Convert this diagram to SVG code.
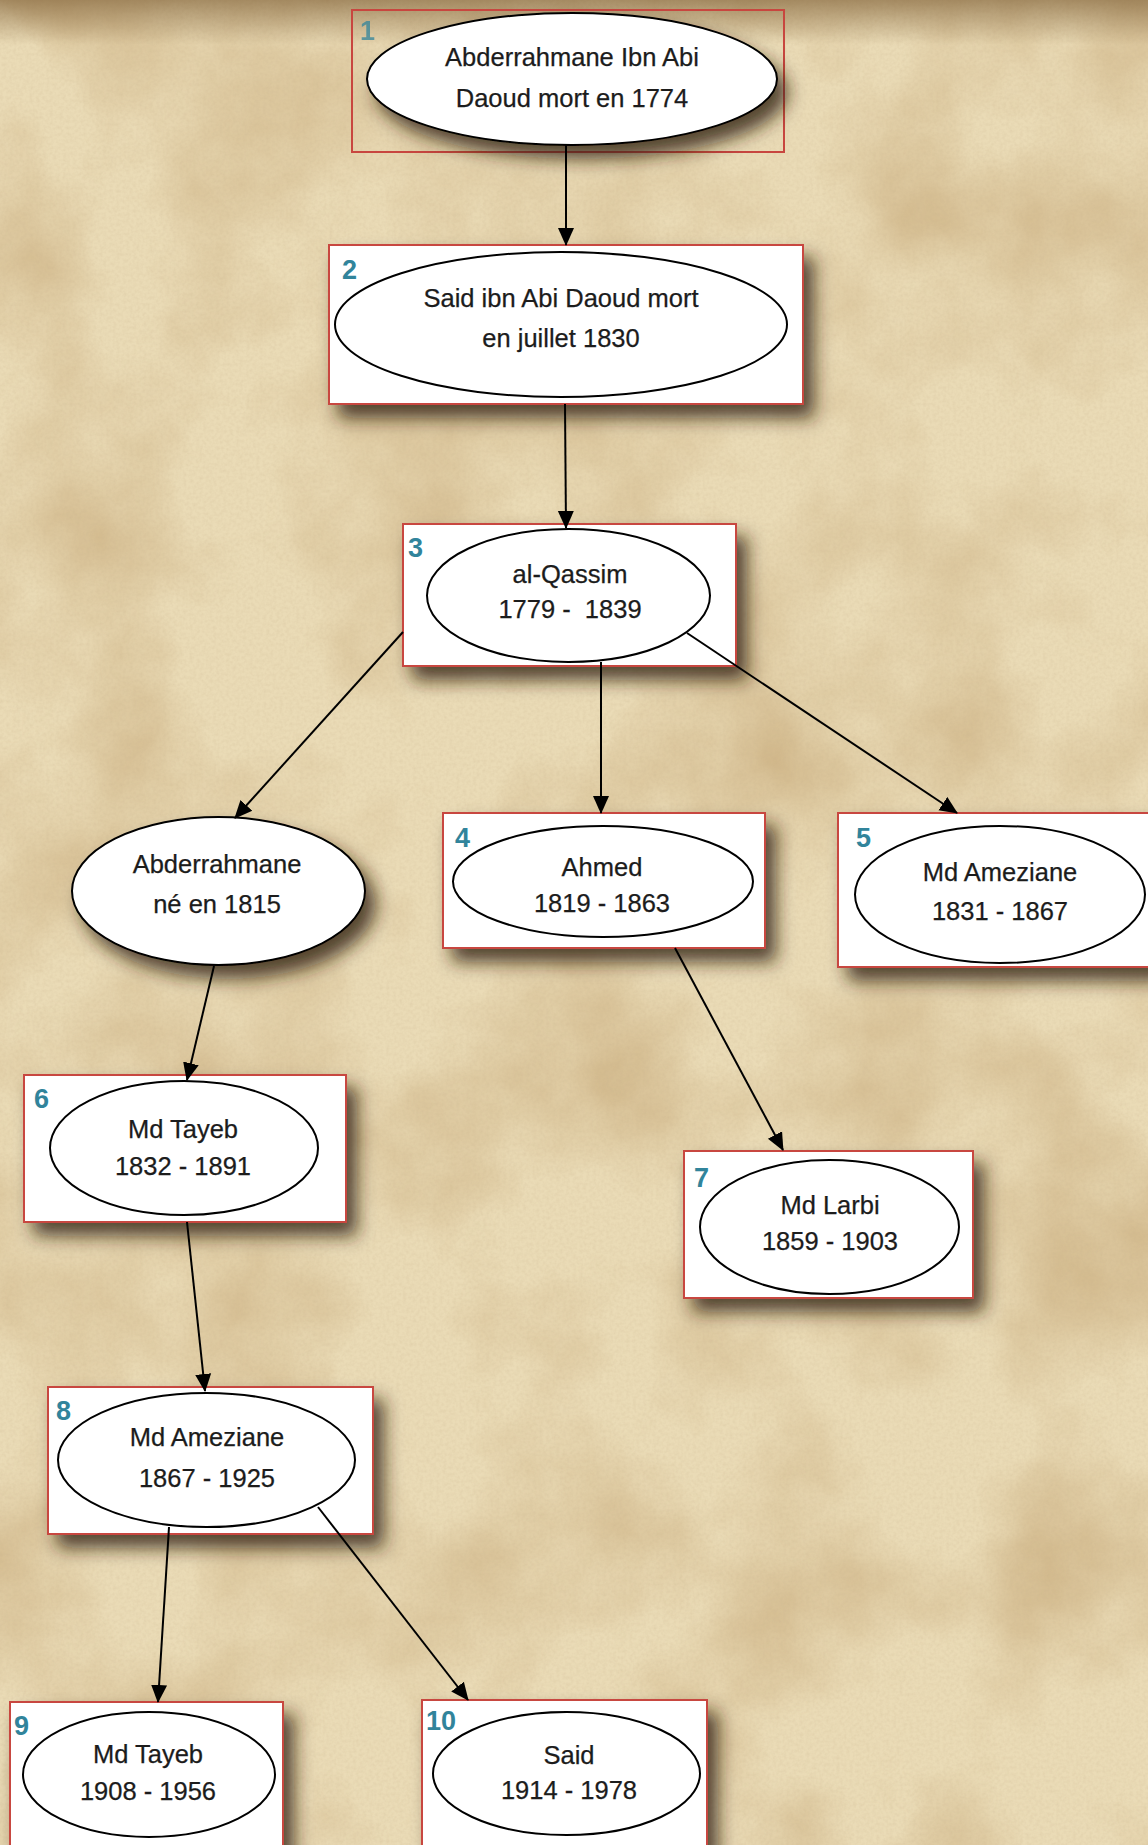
<svg xmlns="http://www.w3.org/2000/svg" width="1148" height="1845" viewBox="0 0 1148 1845">
<defs>
<filter id="parch" x="0" y="0" width="100%" height="100%">
<feTurbulence type="fractalNoise" baseFrequency="0.006" numOctaves="5" seed="7"/>
<feColorMatrix type="matrix" values="0 0 0 0 0.64  0 0 0 0 0.48  0 0 0 0 0.26  0 0 0 1.8 -0.68"/>
</filter>
<filter id="grain" x="0" y="0" width="100%" height="100%">
<feTurbulence type="fractalNoise" baseFrequency="0.3" numOctaves="2" seed="2"/>
<feColorMatrix type="matrix" values="0 0 0 0 0.55  0 0 0 0 0.42  0 0 0 0 0.25  0 0 0 0.7 -0.25"/>
</filter>
<linearGradient id="topdark" x1="0" y1="0" x2="0" y2="1">
<stop offset="0" stop-color="#7a5a30" stop-opacity="0.6"/>
<stop offset="1" stop-color="#7a5a30" stop-opacity="0"/>
</linearGradient>
<filter id="shadow" x="-20%" y="-20%" width="150%" height="170%">
<feDropShadow dx="10" dy="13" stdDeviation="9" flood-color="#33240e" flood-opacity="0.8"/>
</filter>
<marker id="arrow" markerWidth="18" markerHeight="18" refX="17" refY="8" orient="auto" markerUnits="userSpaceOnUse" viewBox="0 0 18 16">
<path d="M0,0 L18,8 L0,16 z" fill="#000"/>
</marker>
<style>
.box{fill:#fff;stroke:#c8463f;stroke-width:2}
.ell{fill:#fff;stroke:#000;stroke-width:2}
.lbl{font-family:"Liberation Sans",Arial,sans-serif;font-size:25.5px;fill:#1c1c1c;text-anchor:middle;stroke:#1c1c1c;stroke-width:0.25}
.num{font-family:"Liberation Sans",Arial,sans-serif;font-size:27px;font-weight:bold;fill:#31849b}
.edge{stroke:#000;stroke-width:2;fill:none;marker-end:url(#arrow)}
</style>
</defs>
<rect x="0" y="0" width="1148" height="1845" fill="#eadbb6"/>
<rect x="0" y="0" width="1148" height="1845" filter="url(#parch)"/>
<rect x="0" y="0" width="1148" height="1845" filter="url(#grain)" opacity="0.5"/>
<rect x="0" y="0" width="1148" height="45" fill="url(#topdark)"/>

<g id="node1">
<rect x="352" y="10" width="432" height="142" fill="none" stroke="#c8463f" stroke-width="2"/>
<text class="num" x="360" y="40" opacity="0.75">1</text>
<ellipse class="ell" cx="572" cy="79" rx="205" ry="66" filter="url(#shadow)"/>
<text class="lbl" x="572" y="66">Abderrahmane Ibn Abi</text>
<text class="lbl" x="572" y="107">Daoud mort en 1774</text>
</g>

<g id="node2">
<rect class="box" x="329" y="245" width="474" height="159" filter="url(#shadow)"/>
<text class="num" x="342" y="279">2</text>
<ellipse class="ell" cx="561" cy="324.5" rx="226" ry="72.5"/>
<text class="lbl" x="561" y="307">Said ibn Abi Daoud mort</text>
<text class="lbl" x="561" y="347">en juillet 1830</text>
</g>

<g id="node3">
<rect class="box" x="403" y="524" width="333" height="142" filter="url(#shadow)"/>
<text class="num" x="408" y="557">3</text>
<ellipse class="ell" cx="568.5" cy="595.5" rx="141.5" ry="66.5"/>
<text class="lbl" x="570" y="583">al-Qassim</text>
<text class="lbl" x="570" y="618" xml:space="preserve">1779 -  1839</text>
</g>

<g id="node-abderrahmane">
<ellipse class="ell" cx="218.5" cy="891" rx="146.5" ry="74" filter="url(#shadow)"/>
<text class="lbl" x="217" y="873">Abderrahmane</text>
<text class="lbl" x="217" y="913">né en 1815</text>
</g>

<g id="node4">
<rect class="box" x="443" y="813" width="322" height="135" filter="url(#shadow)"/>
<text class="num" x="455" y="847">4</text>
<ellipse class="ell" cx="603" cy="881.5" rx="150" ry="55.5"/>
<text class="lbl" x="602" y="876">Ahmed</text>
<text class="lbl" x="602" y="912">1819 - 1863</text>
</g>

<g id="node5">
<rect class="box" x="838" y="813" width="320" height="154" filter="url(#shadow)"/>
<text class="num" x="856" y="847">5</text>
<ellipse class="ell" cx="1000" cy="894.5" rx="145" ry="68.5"/>
<text class="lbl" x="1000" y="881">Md Ameziane</text>
<text class="lbl" x="1000" y="920">1831 - 1867</text>
</g>

<g id="node6">
<rect class="box" x="24" y="1075" width="322" height="147" filter="url(#shadow)"/>
<text class="num" x="34" y="1108">6</text>
<ellipse class="ell" cx="184" cy="1148" rx="134" ry="67"/>
<text class="lbl" x="183" y="1138">Md Tayeb</text>
<text class="lbl" x="183" y="1175">1832 - 1891</text>
</g>

<g id="node7">
<rect class="box" x="684" y="1151" width="289" height="147" filter="url(#shadow)"/>
<text class="num" x="694" y="1187">7</text>
<ellipse class="ell" cx="829.5" cy="1227" rx="129.5" ry="67"/>
<text class="lbl" x="830" y="1214">Md Larbi</text>
<text class="lbl" x="830" y="1250">1859 - 1903</text>
</g>

<g id="node8">
<rect class="box" x="48" y="1387" width="325" height="147" filter="url(#shadow)"/>
<text class="num" x="56" y="1420">8</text>
<ellipse class="ell" cx="206.5" cy="1460" rx="148.5" ry="67"/>
<text class="lbl" x="207" y="1446">Md Ameziane</text>
<text class="lbl" x="207" y="1487">1867 - 1925</text>
</g>

<g id="node9">
<rect class="box" x="10" y="1702" width="273" height="160" filter="url(#shadow)"/>
<text class="num" x="14" y="1735">9</text>
<ellipse class="ell" cx="149" cy="1774.5" rx="126" ry="62.5"/>
<text class="lbl" x="148" y="1763">Md Tayeb</text>
<text class="lbl" x="148" y="1800">1908 - 1956</text>
</g>

<g id="node10">
<rect class="box" x="422" y="1700" width="285" height="160" filter="url(#shadow)"/>
<text class="num" x="426" y="1730">10</text>
<ellipse class="ell" cx="566.5" cy="1773.5" rx="133.5" ry="61.5"/>
<text class="lbl" x="569" y="1764">Said</text>
<text class="lbl" x="569" y="1799">1914 - 1978</text>
</g>

<g id="connectors">
<line class="edge" x1="566" y1="145" x2="566" y2="245"/>
<line class="edge" x1="565" y1="404" x2="566" y2="528"/>
<line class="edge" x1="403" y1="632" x2="235" y2="818"/>
<line class="edge" x1="601" y1="662" x2="601" y2="813"/>
<line class="edge" x1="687" y1="633" x2="957" y2="813"/>
<line class="edge" x1="214" y1="966" x2="187" y2="1080"/>
<line class="edge" x1="675" y1="948" x2="783" y2="1150"/>
<line class="edge" x1="187" y1="1222" x2="205" y2="1391"/>
<line class="edge" x1="169" y1="1527" x2="158" y2="1702"/>
<line class="edge" x1="318" y1="1507" x2="468" y2="1700"/>
</g>
</svg>
